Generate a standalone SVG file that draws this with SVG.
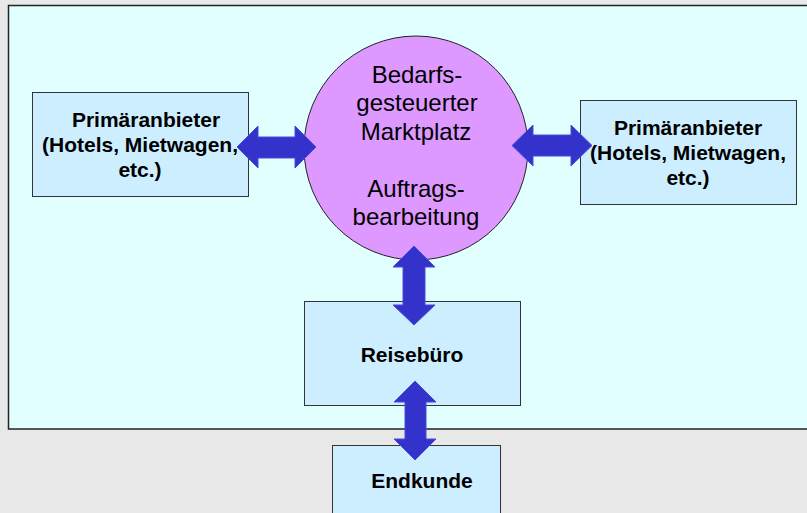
<svg xmlns="http://www.w3.org/2000/svg" width="807" height="513" viewBox="0 0 807 513">
<style>
.box{fill:#CCEEFF;stroke:#333;stroke-width:1}
.b{font-family:"Liberation Sans",Arial,sans-serif;font-weight:bold;font-size:21px;fill:#000;text-anchor:middle}
.r{font-family:"Liberation Sans",Arial,sans-serif;font-size:24px;fill:#000;text-anchor:middle}
.arr{fill:#3333CC;stroke:#4b4bdd;stroke-width:1;stroke-linejoin:miter}
</style>
<rect x="0" y="0" width="807" height="513" fill="#E8E8E8"/>
<rect x="8.5" y="5.5" width="805" height="423.5" fill="#E2FFFF" stroke="#222" stroke-width="1.5"/>
<g id="market">
<circle cx="416" cy="148" r="112" fill="#DD99FF" stroke="#222" stroke-width="1"/>
<text class="r" x="417" y="83">Bedarfs-</text>
<text class="r" x="417" y="111">gesteuerter</text>
<text class="r" x="416" y="140">Marktplatz</text>
<text class="r" x="416" y="197">Auftrags-</text>
<text class="r" x="416" y="225">bearbeitung</text>
</g>
<g id="anbieter-left">
<rect class="box" x="32.5" y="92.5" width="216" height="104"/>
<text class="b" x="146" y="127">Primäranbieter</text>
<text class="b" x="140" y="152">(Hotels, Mietwagen,</text>
<text class="b" x="140" y="177">etc.)</text>
</g>
<g id="anbieter-right">
<rect class="box" x="580.5" y="100.5" width="216" height="104"/>
<text class="b" x="688" y="135">Primäranbieter</text>
<text class="b" x="688" y="160">(Hotels, Mietwagen,</text>
<text class="b" x="688" y="185">etc.)</text>
</g>
<g id="reisebuero">
<rect class="box" x="304.5" y="301.5" width="216" height="104"/>
<text class="b" x="412" y="362">Reisebüro</text>
</g>
<g id="endkunde">
<rect class="box" x="332.5" y="445.5" width="168" height="80"/>
<text class="b" x="422" y="488">Endkunde</text>
</g>
<g id="connectors">
<polygon class="arr" points="237,147 258,126 258,137 295,137 295,126 316,147 295,168 295,158 258,158 258,168"/>
<polygon class="arr" points="512,145.5 533,125 533,135 571,135 571,125 592,145.5 571,166 571,156 533,156 533,166"/>
<polygon class="arr" points="414,246 435,267 425,267 425,305 435,305 414,325 393,305 403,305 403,267 393,267"/>
<polygon class="arr" points="415,381 436,402 426,402 426,439 436,439 415,460 394,439 405,439 405,402 394,402"/>
</g>
</svg>
